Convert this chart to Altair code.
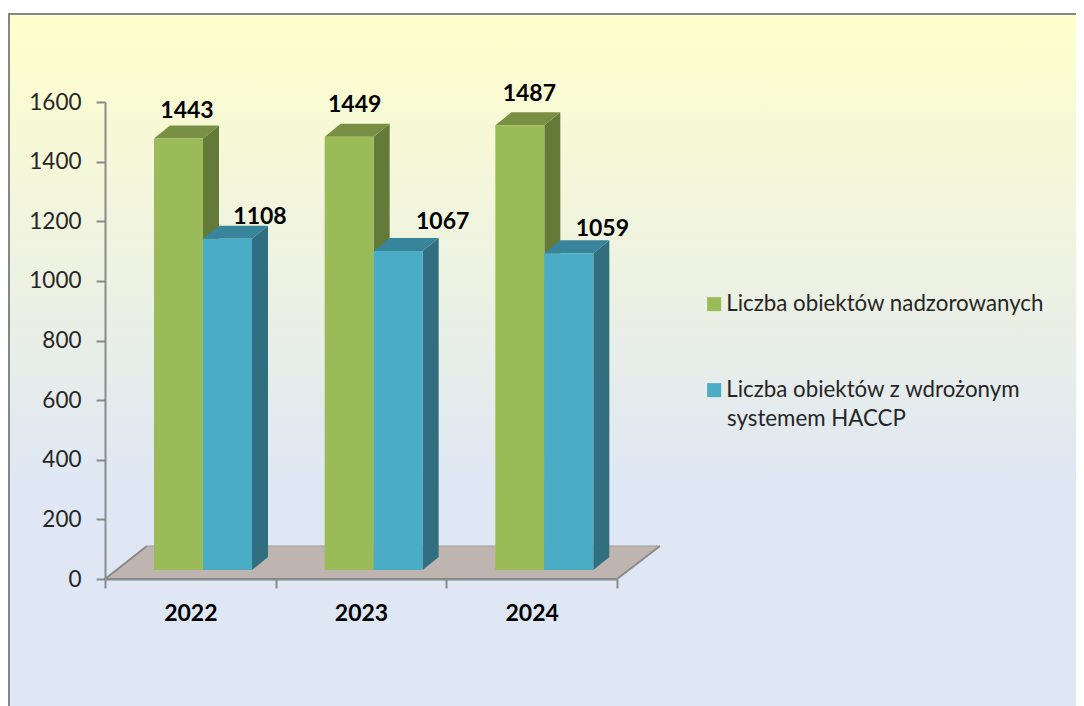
import altair as alt
import pandas as pd

# ---- values
years = ["2022", "2023", "2024"]
series = ["Liczba obiektów nadzorowanych", "Liczba obiektów z wdrożonym systemem HACCP"]
supervised = [1443, 1449, 1487]
haccp = [1108, 1067, 1059]
y_ticks = [0, 200, 400, 600, 800, 1000, 1200, 1400, 1600]

# ---- layout (page pixels) and styles
PLOT_L, PLOT_R, PLOT_T, PLOT_B = 105, 617, 102, 579
TOTAL_W, TOTAL_H = 1068, 698
FONT = "Lato"
GREEN = ["#9BBB59", "#647A39", "#788F44"]
BLUE = ["#4BACC6", "#316F80", "#38849A"]
GREY = "#8A8A8A"


def ux(px):
    return (px - PLOT_L) * 3 / (PLOT_R - PLOT_L)


def uy(px):
    return (PLOT_B - px) * 1600 / (PLOT_B - PLOT_T)


BAR_W = 49
BAR_OFF = 49
GROUP_W = (PLOT_R - PLOT_L) / 3
DX, DY = 16, 13
BASE_PX = 570
BAR_GAIN = 1.003  # the 3-D projection is a hair steeper than the axis

label_dx = [[33, 30, 34], [57, 69, 58]]  # label centre from the front face's left edge
label_dy = [[28, 32, 31], [22, 29, 24]]  # label centre above the bar's top

fronts, faces, labels = [], [], []
for s, (vals, cols) in enumerate(zip([supervised, haccp], [GREEN, BLUE])):
    for g, v in enumerate(vals):
        left = PLOT_L + g * GROUP_W + BAR_OFF + s * BAR_W
        right = left + BAR_W
        base = uy(BASE_PX)
        top = base + v * BAR_GAIN
        dy = DY * 1600 / (PLOT_B - PLOT_T)
        fronts.append(dict(series=series[s], x=ux(left), x2=ux(right), y=base, y2=top))
        key = f"{s}-{g}"
        # side face
        faces += [
            dict(key="side" + key, fill=cols[1], x=ux(right), y=base, y2=top),
            dict(key="side" + key, fill=cols[1], x=ux(right + DX), y=base + dy, y2=top + dy),
        ]
        # top face
        faces += [
            dict(key="top" + key, fill=cols[2], x=ux(left), y=top, y2=top),
            dict(key="top" + key, fill=cols[2], x=ux(left + DX), y=top, y2=top + dy),
            dict(key="top" + key, fill=cols[2], x=ux(right), y=top, y2=top + dy),
            dict(key="top" + key, fill=cols[2], x=ux(right + DX), y=top + dy, y2=top + dy),
        ]
        labels.append(dict(text=str(v), x=ux(left + label_dx[s][g]),
                           y=top + label_dy[s][g] * 1600 / (PLOT_B - PLOT_T)))

x_scale = alt.Scale(domain=[0, 3], nice=False, zero=False)
y_scale = alt.Scale(domain=[0, 1600], nice=False, zero=False)
X = alt.X("x:Q", scale=x_scale, title=None,
          axis=alt.Axis(values=[0, 1, 2, 3], grid=False, domainColor=GREY, domainWidth=2, tickColor=GREY,
                        tickWidth=2, tickSize=9, labelFont=FONT, labelFontSize=23, labelFontWeight="bold",
                        labelColor="#000000", labelOffset=GROUP_W / 2, labelPadding=14, labelAlign="center",
                        labelExpr="datum.value < 3 ? ['2022','2023','2024'][datum.value] : ''", zindex=1))
Y = alt.Y("y:Q", scale=y_scale, title=None,
          axis=alt.Axis(values=y_ticks, grid=False, domainColor=GREY, domainWidth=2, tickColor=GREY,
                        tickWidth=2, tickSize=9, labelFont=FONT, labelFontSize=22.5, labelColor="#262626",
                        labelPadding=15, format="d", zindex=1))

# background panel
bg = alt.Chart(pd.DataFrame([dict(x=ux(9), x2=ux(1110), y=uy(14), y2=uy(730))])).mark_rect(
    stroke="#868686", strokeWidth=2,
    fill=alt.Gradient(gradient="linear", x1=0, x2=0, y1=0, y2=1,
                      stops=[alt.GradientStop(color="#FFFFCC", offset=0),
                             alt.GradientStop(color="#DFE7F4", offset=0.66),
                             alt.GradientStop(color="#DFE7F4", offset=1)])
).encode(x=X, x2="x2:Q", y=Y, y2="y2:Q")

# floor
F_DX, F_DY = 42, uy(546)
floor_df = pd.DataFrame([
    dict(x=ux(PLOT_L), y=0, y2=0),
    dict(x=ux(PLOT_L + F_DX), y=0, y2=F_DY),
    dict(x=ux(PLOT_R), y=0, y2=F_DY),
    dict(x=ux(PLOT_R + F_DX + 1), y=F_DY, y2=F_DY),
])
floor = alt.Chart(floor_df).mark_area(color="#BFB5B0", orient="vertical", opacity=1).encode(
    x="x:Q", y=alt.Y("y:Q", stack=None), y2="y2:Q")
edge_df = pd.DataFrame([
    dict(x=ux(PLOT_L + F_DX), y=F_DY, i=0),
    dict(x=ux(PLOT_L), y=0, i=1),
    dict(x=ux(PLOT_R), y=0, i=2),
    dict(x=ux(PLOT_R + F_DX + 1), y=F_DY, i=3),
])
edge = alt.Chart(edge_df).mark_line(color=GREY, strokeWidth=2).encode(
    x="x:Q", y="y:Q", order="i:Q")
back_edge = alt.Chart(pd.DataFrame([dict(x=ux(PLOT_L + F_DX), y=F_DY), dict(x=ux(PLOT_R + F_DX + 1), y=F_DY)])).mark_line(
    color="#A39A96", strokeWidth=1).encode(x="x:Q", y="y:Q")

# 3-D faces
face_layer = alt.Chart(pd.DataFrame(faces)).mark_area(orient="vertical", opacity=1).encode(
    x="x:Q", y=alt.Y("y:Q", stack=None), y2="y2:Q", detail="key:N",
    fill=alt.Fill("fill:N", scale=None, legend=None))

front_layer = alt.Chart(pd.DataFrame(fronts)).mark_rect().encode(
    x="x:Q", x2="x2:Q", y="y:Q", y2="y2:Q",
    color=alt.Color("series:N",
                    scale=alt.Scale(domain=series, range=[GREEN[0], BLUE[0]]),
                    legend=alt.Legend(title=None, orient="none", legendX=598, legendY=191, padding=0,
                                      symbolType="square", symbolSize=196, symbolStrokeWidth=0, symbolOpacity=1,
                                      labelFont=FONT, labelFontSize=22.3, labelColor="#262626", labelLimit=400,
                                      labelOffset=1, rowPadding=63, zindex=1,
                                      labelExpr="replace(datum.label, ' systemem HACCP', '')")))

label_layer = alt.Chart(pd.DataFrame(labels)).mark_text(
    font=FONT, fontSize=23, fontWeight="bold", color="#000000", baseline="middle", align="center"
).encode(x="x:Q", y="y:Q", text="text:N")

# second line of the wrapped legend entry
legend_wrap = alt.Chart(pd.DataFrame([dict(text="systemem HACCP", x=ux(727), y=uy(419))])).mark_text(
    font=FONT, fontSize=22.3, color="#262626", baseline="middle", align="left"
).encode(x="x:Q", y="y:Q", text="text:N")

chart = alt.layer(bg, floor, back_edge, edge, face_layer, front_layer, label_layer, legend_wrap).resolve_scale(
    fill="independent"
).properties(
    width=PLOT_R - PLOT_L,
    height=PLOT_B - PLOT_T,
    padding={"left": PLOT_L - 8, "top": PLOT_T - 8, "right": TOTAL_W - (PLOT_R - 8), "bottom": TOTAL_H - (PLOT_B - 8)},
    autosize=alt.AutoSizeParams(type="none"),
    background="#FFFFFF",
).configure_view(stroke=None)

chart.save("out.html", embed_options={"renderer": "svg", "actions": False})
